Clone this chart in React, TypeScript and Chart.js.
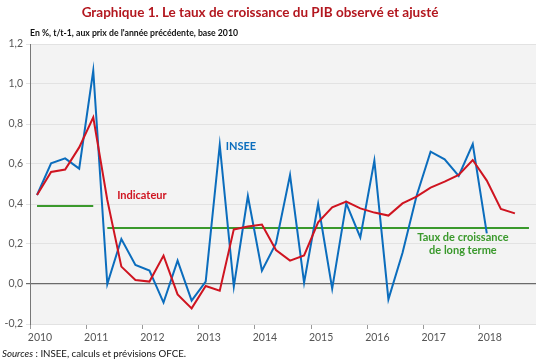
import React, { useEffect, useRef } from "react";
import { Chart, registerables } from "chart.js";

Chart.register(...registerables);

// Quarterly GDP growth, % q/q, first quarter = 2010T1
const FIRST_YEAR = 2010;
const inseeValues = [
  0.445, 0.603, 0.628, 0.577,
  1.067, 0.0, 0.225, 0.095,
  0.067, -0.093, 0.117, -0.083,
  0.012, 0.695, -0.013, 0.44,
  0.067, 0.203, 0.545, 0.007,
  0.4, -0.023, 0.403, 0.233,
  0.617, -0.077, 0.155, 0.44,
  0.662, 0.623, 0.54, 0.7,
  0.253,
];
const indicateurValues = [
  0.445, 0.56, 0.572, 0.683,
  0.833, 0.42, 0.087, 0.02,
  0.012, 0.142, -0.052, -0.122,
  -0.01, -0.033, 0.273, 0.287,
  0.297, 0.17, 0.117, 0.143,
  0.308, 0.383, 0.412, 0.378,
  0.357, 0.342, 0.403, 0.437,
  0.482, 0.512, 0.545, 0.62,
  0.517, 0.375, 0.353,
];
// Long-term growth rate periods: [from quarter, to quarter, value]
const longTermPeriods: [string, string, number][] = [
  ["2010T1", "2011T1", 0.39],
  ["2011T2", "2018T4", 0.28],
];
const yearLabels = [2010, 2011, 2012, 2013, 2014, 2015, 2016, 2017, 2018];
const yTicks = [-0.2, 0, 0.2, 0.4, 0.6, 0.8, 1.0, 1.2];

const TITLE = "Graphique 1. Le taux de croissance du PIB observé et ajusté";
const SUBTITLE = "En %, t/t-1, aux prix de l'année précédente, base 2010";
const SOURCE_LABEL = "Sources";
const SOURCE_TEXT = " : INSEE, calculs et prévisions OFCE.";

const BLUE = "#0b6dbd";
const RED = "#cf1420";
const GREEN = "#3a992c";
const FONT = "Lato, 'Open Sans', sans-serif";

const quarterX = (i: number) => FIRST_YEAR + (i + 0.5) / 4;
const labelX = (q: string) => {
  const [y, t] = q.split("T");
  return Number(y) + (Number(t) - 0.5) / 4;
};

const textPlugin = {
  id: "texts",
  beforeDraw(chart: any) {
    const { ctx, chartArea } = chart;
    ctx.save();
    ctx.fillStyle = "#f3f3f3";
    ctx.fillRect(chartArea.left, chartArea.top, chartArea.right - chartArea.left, chartArea.bottom - chartArea.top);
    ctx.restore();
  },
  afterDraw(chart: any) {
    const { ctx, scales } = chart;
    const xs = scales.x;
    const ys = scales.y;
    ctx.save();
    ctx.textBaseline = "middle";
    // title
    ctx.fillStyle = "#b3171f";
    ctx.font = `bold 13.5px ${FONT}`;
    ctx.textAlign = "center";
    ctx.fillText(TITLE, 260, 13);
    // subtitle
    ctx.fillStyle = "#111";
    ctx.font = `bold 8.7px ${FONT}`;
    ctx.textAlign = "left";
    ctx.fillText(SUBTITLE, 30, 33);
    // sources
    ctx.font = `italic 9.7px ${FONT}`;
    ctx.fillStyle = "#111";
    ctx.fillText(SOURCE_LABEL, 2, 354);
    const w = ctx.measureText(SOURCE_LABEL).width;
    ctx.font = `9.7px ${FONT}`;
    ctx.fillText(SOURCE_TEXT, 2 + w, 354);
    // series annotations
    ctx.font = `bold 11px ${FONT}`;
    ctx.textAlign = "left";
    ctx.fillStyle = BLUE;
    ctx.fillText("INSEE", xs.getPixelForValue(2013.48), ys.getPixelForValue(0.69));
    ctx.fillStyle = RED;
    ctx.fillText("Indicateur", xs.getPixelForValue(2011.55), ys.getPixelForValue(0.445));
    ctx.fillStyle = GREEN;
    ctx.textAlign = "center";
    const gx = xs.getPixelForValue(2017.7);
    ctx.fillText("Taux de croissance", gx, ys.getPixelForValue(0.235));
    ctx.fillText("de long terme", gx, ys.getPixelForValue(0.17));
    ctx.restore();
  },
};

export default function App() {
  const ref = useRef<HTMLCanvasElement>(null);
  useEffect(() => {
    document.body.style.margin = "0";
    const datasets: any[] = [
      {
        label: "Indicateur",
        data: indicateurValues.map((v, i) => ({ x: quarterX(i), y: v })),
        borderColor: RED,
        borderWidth: 2,
        pointRadius: 0,
        tension: 0,
      },
      {
        label: "INSEE",
        data: inseeValues.map((v, i) => ({ x: quarterX(i), y: v })),
        borderColor: BLUE,
        borderWidth: 2,
        pointRadius: 0,
        tension: 0,
      },
      ...longTermPeriods.map(([a, b, v]) => ({
        label: "Taux de croissance de long terme",
        data: [
          { x: labelX(a), y: v },
          { x: labelX(b), y: v },
        ],
        borderColor: GREEN,
        borderWidth: 2,
        pointRadius: 0,
      })),
    ];
    const chart = new Chart(ref.current!, {
      type: "line",
      data: { datasets },
      plugins: [textPlugin],
      options: {
        animation: false,
        responsive: false,
        devicePixelRatio: 1,
        layout: { padding: { top: 44, right: 14, left: 0, bottom: 0 } },
        plugins: { legend: { display: false }, tooltip: { enabled: false } },
        scales: {
          x: {
            type: "linear",
            min: 2010,
            max: 2019,
            afterBuildTicks: (s: any) => {
              s.ticks = yearLabels.map((y) => ({ value: y }));
            },
            afterFit: (s: any) => {
              s.height = 40;
            },
            grid: { drawOnChartArea: false, drawTicks: true, tickLength: 5, color: "#999" },
            border: { display: false },
            ticks: {
              labelOffset: 10,
              padding: 2,
              maxRotation: 0,
              color: "#555",
              font: { family: FONT, size: 10.5 },
              callback: (v: any) => String(v),
            },
          },
          y: {
            min: -0.2,
            max: 1.2,
            afterBuildTicks: (s: any) => {
              s.ticks = yTicks.map((v) => ({ value: v }));
            },
            afterFit: (s: any) => {
              s.width = 30;
            },
            grid: {
              color: (c: any) => (c.tick && Math.abs(c.tick.value) < 1e-9 ? "#6a6a6a" : "#e2e2e2"),
              lineWidth: (c: any) => (c.tick && Math.abs(c.tick.value) < 1e-9 ? 1.2 : 1),
              tickLength: 4,
            },
            border: { display: true, color: "#777", width: 1 },
            ticks: {
              padding: 3,
              color: "#555",
              font: { family: FONT, size: 10.5 },
              callback: (v: any) => Number(v).toFixed(1).replace(".", ","),
            },
          },
        },
      },
    });
    return () => chart.destroy();
  }, []);
  return <canvas ref={ref} width={550} height={364} style={{ display: "block" }} />;
}
